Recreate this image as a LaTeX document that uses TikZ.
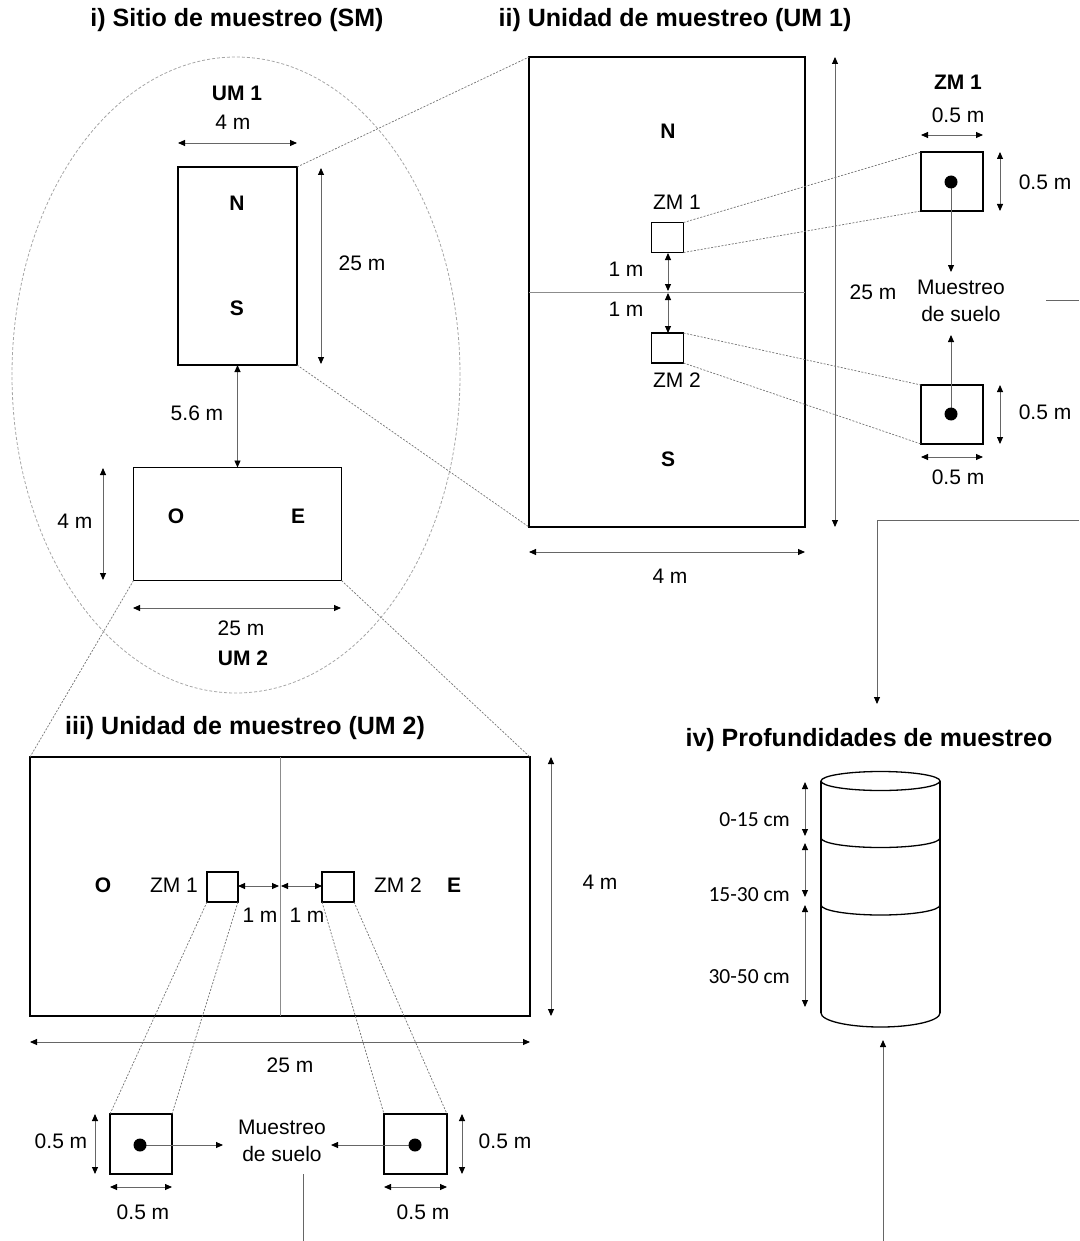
\documentclass[tikz,border=0pt]{standalone}
\usepackage{fontspec}
\setmainfont{Liberation Sans}
\newfontfamily\calib{Carlito}
\usetikzlibrary{arrows.meta,calc}
\begin{document}
\begin{tikzpicture}[x=1pt,y=-1pt,
  >={Triangle[length=7pt,width=6pt,color=black]},
  box/.style={draw, line width=1.5pt, inner sep=0pt, outer sep=0pt},
  dim/.style={<->, draw=black!60, line width=0.9pt},
  flow/.style={->, draw=black!60, line width=0.9pt},
  plain/.style={draw=black!60, line width=0.9pt},
  link/.style={draw=black!55, line width=0.7pt, dash pattern=on 2pt off 1.5pt},
  midline/.style={draw=black!45, line width=0.6pt},
  ell/.style={draw=black!35, line width=0.8pt, dash pattern=on 3pt off 2pt},
  lbl/.style={font=\fontsize{21}{27}\selectfont, inner sep=0pt},
  blbl/.style={font=\fontsize{21}{27}\selectfont\bfseries, inner sep=0pt},
  ttl/.style={font=\fontsize{25}{29}\selectfont\bfseries, inner sep=0pt},
  clbl/.style={font=\calib\fontsize{21.5}{26}\selectfont, inner sep=0pt, anchor=east},
  dot/.style={circle, fill=black, inner sep=0pt, minimum size=13pt},
  cyl/.style={draw=black, line width=1.3pt}
]
\useasboundingbox (0,0) rectangle (1079,1241);

% ---------- titles
\node[ttl] (t1) at (237,20) {i) Sitio de muestreo (SM)};
\node[ttl] (t2) at (675,20) {ii) Unidad de muestreo (UM 1)};
\node[ttl] (t3) at (245,728) {iii) Unidad de muestreo (UM 2)};
\node[ttl] (t4) at (869,740) {iv) Profundidades de muestreo};

% ---------- i) site
\draw[ell] (236,375) ellipse [x radius=224pt, y radius=318pt];
\node[box, minimum width=119pt, minimum height=198pt] (um1) at (237.5,266) {};
\node[box, minimum width=208pt, minimum height=113pt] (um2) at (237.5,524) {};
\node[blbl] (um1l) at (237,93) {UM 1};
\node[lbl] (um1w) at (233,122) {4 m};
\draw[dim] (178,143) -- (297,143);
\node[blbl] (nA) at (237,203) {N};
\node[blbl] (sA) at (237,308) {S};
\draw[dim] (321,168) -- (321,364);
\node[lbl] (um1h) at (362,263) {25 m};
\draw[dim] (um1.south) -- (um2.north);
\node[lbl] (dist) at (197,413) {5.6 m};
\node[blbl] (oA) at (176,516) {O};
\node[blbl] (eA) at (298,516) {E};
\draw[dim] (103,468) -- (103,580);
\node[lbl] (um2h) at (75,521) {4 m};
\draw[dim] (133,608) -- (341,608);
\node[lbl] (um2w) at (241,628) {25 m};
\node[blbl] (um2l) at (243,658) {UM 2};

% ---------- ii) UM 1
\node[box, minimum width=276pt, minimum height=470pt] (ii) at (667,292) {};
\draw[midline] (ii.west) -- (ii.east);
\node[blbl] (nB) at (668,131) {N};
\node[blbl] (sB) at (668,459) {S};
\node[box, minimum width=32pt, minimum height=30pt] (zmA) at (667.5,237.5) {};
\node[box, minimum width=32pt, minimum height=30pt] (zmB) at (667.5,348) {};
\node[lbl] (zmAl) at (677,202) {ZM 1};
\node[lbl] (zmBl) at (677,380) {ZM 2};
\draw[dim] (668,253) -- (668,291);
\draw[dim] (668,293) -- (668,333);
\node[lbl] (d1a) at (626,269) {1 m};
\node[lbl] (d1b) at (626,309) {1 m};
\draw[dim] (835,57) -- (835,527);
\node[lbl] (iih) at (873,292) {25 m};
\draw[dim] (529,552) -- (805,552);
\node[lbl] (iiw) at (670,576) {4 m};

% right column (zoomed ZM of UM 1)
\node[box, minimum width=62pt, minimum height=59pt] (bigA) at (952,181.5) {};
\node[box, minimum width=62pt, minimum height=59pt] (bigB) at (952,414.5) {};
\node[blbl] (zmAt) at (958,82) {ZM 1};
\node[lbl] (bigAw) at (958,115) {0.5 m};
\draw[dim] (921,135) -- (983,135);
\draw[dim] (1000,152) -- (1000,211);
\node[lbl] (bigAh) at (1045,182) {0.5 m};
\draw[dim] (1000,385) -- (1000,444);
\node[lbl] (bigBh) at (1045,412) {0.5 m};
\draw[dim] (921,457) -- (983,457);
\node[lbl] (bigBw) at (958,477) {0.5 m};
\node[lbl, align=center] (muesA) at (961,301) {Muestreo\\de suelo};
\coordinate (cA) at (951,182);
\coordinate (cB) at (951,414);
\draw[flow] (cA) -- (951,272);
\draw[flow] (cB) -- (951,335);
\node[dot] (dA) at (cA) {};
\node[dot] (dB) at (cB) {};

\draw[link] (um1.north east) -- (ii.north west);
\draw[link] (um1.south east) -- (ii.south west);
\draw[link] (zmA.north east) -- (bigA.north west);
\draw[link] (zmA.south east) -- (bigA.south west);
\draw[link] (zmB.north east) -- (bigB.north west);
\draw[link] (zmB.south east) -- (bigB.south west);

% connectors leaving the right edge
\coordinate (eR1) at (1079,300);
\coordinate (eR2) at (1079,520);
\draw[plain] (1046,300) -- (eR1);
\coordinate (cylTopArrow) at (877,704);
\draw[flow] (eR2) -- (877,520) -- (cylTopArrow);

% ---------- iii) UM 2
\node[box, minimum width=500pt, minimum height=259pt] (iii) at (280,886.5) {};
\draw[midline] (iii.north) -- (iii.south);
\draw[link] (um2.south west) -- (iii.north west);
\draw[link] (um2.south east) -- (iii.north east);
\node[blbl] (oB) at (103,885) {O};
\node[blbl] (eB) at (454,885) {E};
\node[box, minimum width=31pt, minimum height=30pt] (zmC) at (222.5,887) {};
\node[box, minimum width=32pt, minimum height=30pt] (zmD) at (338,887) {};
\node[lbl] (zmCl) at (174,885) {ZM 1};
\node[lbl] (zmDl) at (398,885) {ZM 2};
\draw[dim] (238,886) -- (279,886);
\draw[dim] (281,886) -- (322,886);
\node[lbl] (d1c) at (260,915) {1 m};
\node[lbl] (d1d) at (307,915) {1 m};
\draw[dim] (551,757) -- (551,1016);
\node[lbl] (iiih) at (600,882) {4 m};
\draw[dim] (30,1042) -- (530,1042);
\node[lbl] (iiiw) at (290,1065) {25 m};

% bottom zoomed squares
\node[box, minimum width=62pt, minimum height=60pt] (bigC) at (141,1144) {};
\node[box, minimum width=63pt, minimum height=60pt] (bigD) at (415.5,1144) {};
\draw[link] (zmC.south west) -- (bigC.north west);
\draw[link] (zmC.south east) -- (bigC.north east);
\draw[link] (zmD.south west) -- (bigD.north west);
\draw[link] (zmD.south east) -- (bigD.north east);
\draw[dim] (95,1114) -- (95,1174);
\node[lbl] (bigCh) at (61,1141) {0.5 m};
\draw[dim] (110,1187) -- (172,1187);
\node[lbl] (bigCw) at (143,1212) {0.5 m};
\draw[dim] (462,1114) -- (462,1174);
\node[lbl] (bigDh) at (505,1141) {0.5 m};
\draw[dim] (384,1187) -- (447,1187);
\node[lbl] (bigDw) at (423,1212) {0.5 m};
\node[lbl, align=center] (muesB) at (282,1141) {Muestreo\\de suelo};
\coordinate (cC) at (140,1145);
\coordinate (cD) at (415,1145);
\draw[flow] (cC) -- (223,1145);
\draw[flow] (cD) -- (331,1145);
\node[dot] (dC) at (cC) {};
\node[dot] (dD) at (cD) {};
\coordinate (eB1) at (303,1241);
\draw[plain] (303,1174) -- (eB1);

% ---------- iv) cylinder
\draw[cyl] (880.5,781) ellipse [x radius=59.5pt, y radius=9.5pt];
\draw[cyl] (821,781) -- (821,1013);
\draw[cyl] (940,781) -- (940,1013);
\draw[cyl] (821,838) arc[start angle=180, end angle=360, x radius=59.5pt, y radius=9.5pt];
\draw[cyl] (821,905) arc[start angle=180, end angle=360, x radius=59.5pt, y radius=10pt];
\draw[cyl] (821,1013) arc[start angle=180, end angle=360, x radius=59.5pt, y radius=14pt];
\draw[dim] (805,782) -- (805,836);
\draw[dim] (805,843) -- (805,897);
\draw[dim] (805,905) -- (805,1007);
\node[clbl] (p1) at (790,820) {0-15 cm};
\node[clbl] (p2) at (790,895) {15-30 cm};
\node[clbl] (p3) at (790,977) {30-50 cm};
\coordinate (eB2) at (883,1241);
\draw[flow] (eB2) -- (883,1040);

\end{tikzpicture}
\end{document}
